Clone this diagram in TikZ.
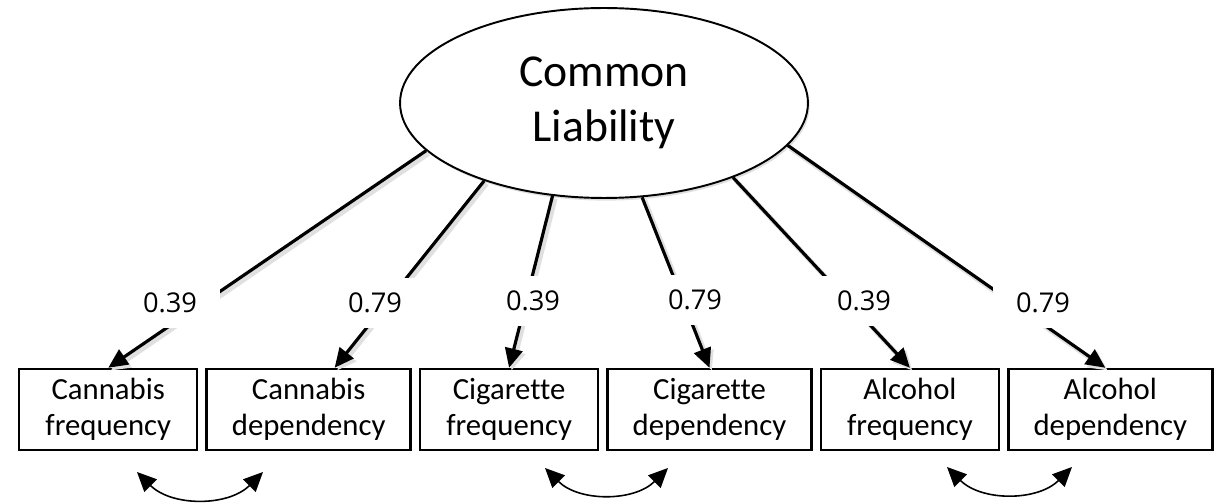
\documentclass[tikz,border=0pt]{standalone}
\usepackage{fontspec}
\setmainfont{Carlito}[Ligatures=NoCommon]
\newfontfamily\numfont{Open Sans}
\usepackage{tikz}
\usetikzlibrary{positioning, arrows.meta, shapes.geometric, shadows}
\tikzset{
	latent/.style={ellipse, draw, line width=1.1pt, fill=white, inner sep=0pt, minimum width=8.16cm, minimum height=3.8cm, align=center, font=\fontsize{26}{31}\selectfont, drop shadow={opacity=0.25, shadow xshift=1pt, shadow yshift=-1.5pt}},
	manifest/.style={rectangle, draw, line width=1.4pt, minimum height=1.62cm, align=center, inner sep=0pt, font=\fontsize{17.5}{20.5}\selectfont},
	freq/.style={manifest, minimum width=3.56cm},
	dep/.style={manifest, minimum width=4.08cm},
	loading/.style={fill=white, inner sep=0pt, minimum width=2cm, minimum height=1cm, font=\numfont\fontsize{15.5}{18}\selectfont},
	load/.style={->, line width=1.8pt, preaction={draw=black!12, line width=2.8pt, transform canvas={shift={(1.4pt,-1.6pt)}}}},
	covar/.style={<->, line width=0.9pt, bend right=45}
}

\begin{document}
\begin{tikzpicture}[x=0.02cm, y=0.02cm, node distance=0.14cm, >={Triangle[length=11pt, width=10pt]}]
	\useasboundingbox (0,0) rectangle (1218,504);
	\node[latent] (cl) at (604,401) {Common\\Liability};
	\node[freq] (cf) at (108.25,94.5) {Cannabis\\frequency};
	\node[dep, right =of cf] (cd) {Cannabis\\dependency};
	\node[freq, right =of cd] (gf) {Cigarette\\frequency};
	\node[dep, right =of gf] (gd) {Cigarette\\dependency};
	\node[freq, right =of gd] (af) {Alcohol\\frequency};
	\node[dep, right =of af] (ad) {Alcohol\\dependency};
	\coordinate (cnl) at (137,32);
	\coordinate (cnr) at (263,32);
	\coordinate (cgl) at (545,36);
	\coordinate (cgr) at (668,36);
	\coordinate (cal) at (947,37);
	\coordinate (car) at (1072,37);
	\draw
	(cl.195) edge[load] (cf.north)
	(cl.213) edge[load] ([xshift=0.52cm]cd.north)
	(cl.241) edge[load] (gf.north)
	(cl.292) edge[load] (gd.north)
	(cl.330) edge[load] (af.north)
	(cl.347) edge[load] ([xshift=-0.1cm]ad.north)
	(cnl) edge[covar] (cnr)
	(cgl) edge[covar] (cgr)
	(cal) edge[covar] (car);
	\node[loading] (l1) at (170,201) {0.39};
	\node[loading] (l2) at (375,201) {0.79};
	\node[loading] (l3) at (533,203) {0.39};
	\node[loading] (l4) at (695,204) {0.79};
	\node[loading] (l5) at (864,203) {0.39};
	\node[loading] (l6) at (1043,201) {0.79};
\end{tikzpicture}
\end{document}
